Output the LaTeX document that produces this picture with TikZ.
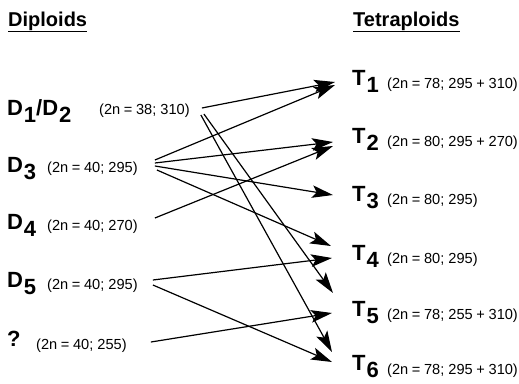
\documentclass[tikz,border=0pt]{standalone}
\usepackage{fontspec}
\setmainfont{Liberation Sans}
\usetikzlibrary{arrows.meta,calc}
\newcommand{\sbx}[1]{\hspace{0.04em}\raisebox{-0.32em}{#1}}
\newcommand{\eqs}{\hspace{0.25em}=\hspace{0.25em}}
\newcommand{\pls}{\hspace{0.25em}+\hspace{0.25em}}
\begin{document}
\begin{tikzpicture}[x=1pt,y=-1pt,
  title/.style={font=\fontsize{20}{20}\selectfont\bfseries, anchor=base west, inner sep=0pt},
  big/.style={font=\fontsize{22}{22}\selectfont\bfseries, anchor=base west, inner sep=0pt},
  info/.style={font=\fontsize{14.6}{14.6}\selectfont, anchor=base west, inner sep=0pt},
  arr/.style={-{Stealth[length=21pt,width=12.5pt,inset=4.5pt]}, line width=1.2pt}]
\useasboundingbox (0,0) rectangle (519,383);
% titles
\node[title] (dtitle) at (8,26) {Diploids};
\node[title] (ttitle) at (353,26) {Tetraploids};
\draw[line width=1.5pt] ([yshift=-5.5pt]dtitle.base west) -- ([yshift=-5.5pt]dtitle.base east);
\draw[line width=1.5pt] ([yshift=-5.5pt]ttitle.base west) -- ([yshift=-5.5pt]ttitle.base east);
% diploids
\node[big] (d12) at (7,115) {D\sbx{1}/D\sbx{2}};
\node[info] (d12i) at (99,114) {(2n\eqs38; 310)};
\node[big] (d3) at (7,172) {D\sbx{3}};
\node[info] (d3i) at (47,172) {(2n\eqs40; 295)};
\node[big] (d4) at (7,229) {D\sbx{4}};
\node[info] (d4i) at (47,230) {(2n\eqs40; 270)};
\node[big] (d5) at (7,287) {D\sbx{5}};
\node[info] (d5i) at (47,289) {(2n\eqs40; 295)};
\node[big] (q) at (7,346) {?};
\node[info] (qi) at (36,349) {(2n\eqs40; 255)};
% tetraploids
\node[big] (t1) at (352,85) {T\sbx{1}};
\node[info] (t1i) at (387,88) {(2n\eqs78; 295\pls310)};
\node[big] (t2) at (352,143) {T\sbx{2}};
\node[info] (t2i) at (387,146) {(2n\eqs80; 295\pls270)};
\node[big] (t3) at (352,201) {T\sbx{3}};
\node[info] (t3i) at (387,204) {(2n\eqs80; 295)};
\node[big] (t4) at (352,260) {T\sbx{4}};
\node[info] (t4i) at (387,263) {(2n\eqs80; 295)};
\node[big] (t5) at (352,316) {T\sbx{5}};
\node[info] (t5i) at (387,319) {(2n\eqs78; 255\pls310)};
\node[big] (t6) at (352,370) {T\sbx{6}};
\node[info] (t6i) at (387,374) {(2n\eqs78; 295\pls310)};
% arrows
\draw[arr] ($(d12i.base east)+(12,-6)$) -- ($(t1.base west)+(-17,-3)$);
\draw[arr] ($(d12i.base east)+(14,0)$) -- ($(t5.base west)+(-19,-23)$);
\draw[arr] ($(d12i.base east)+(11,1)$) -- ($(t6.base west)+(-20,-18)$);
\draw[arr] ($(d3i.base east)+(17,-12)$) -- ($(t1.base west)+(-17,0)$);
\draw[arr] ($(d3i.base east)+(17,-9)$) -- ($(t2.base west)+(-19,-1)$);
\draw[arr] ($(d3i.base east)+(17,-6)$) -- ($(t3.base west)+(-19,-6)$);
\draw[arr] ($(d3i.base east)+(19,-2)$) -- ($(t4.base west)+(-21,-14)$);
\draw[arr] ($(d4i.base east)+(17,-12)$) -- ($(t2.base west)+(-19,3)$);
\draw[arr] ($(d5i.base east)+(15,-9)$) -- ($(t4.base west)+(-20,-2)$);
\draw[arr] ($(d5i.base east)+(15,-4)$) -- ($(t6.base west)+(-20,-8)$);
\draw[arr] ($(qi.base east)+(24,-7)$) -- ($(t5.base west)+(-20,-3)$);
\end{tikzpicture}
\end{document}
